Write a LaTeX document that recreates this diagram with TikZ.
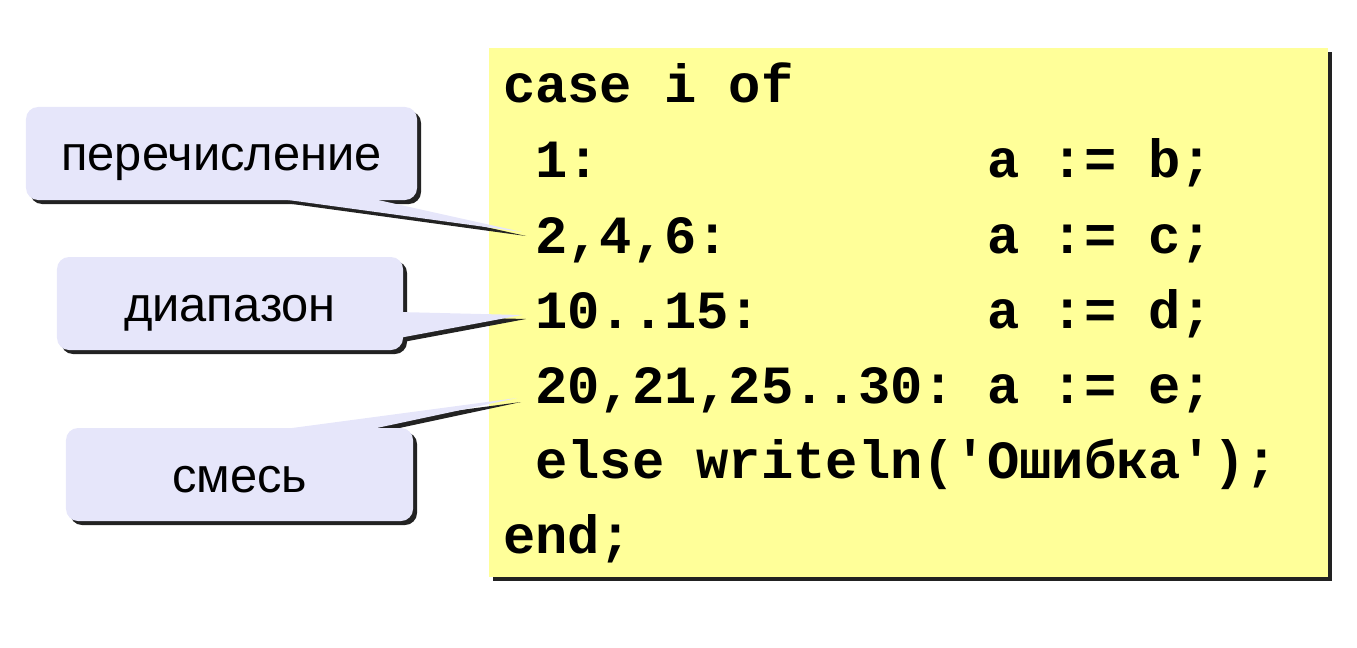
\documentclass[tikz,border=0pt]{standalone}
\usepackage{fontspec}
\setmainfont{Liberation Sans}
\setmonofont{Liberation Mono}
\usetikzlibrary{positioning,calc,backgrounds}
\definecolor{codefill}{HTML}{FFFF99}
\definecolor{notefill}{HTML}{E6E6FA}
\definecolor{shadefill}{HTML}{222222}
\tikzset{every node/.style={inner sep=0pt, outer sep=0pt},
  codeline/.style={anchor=base west, font=\fontsize{54}{60}\selectfont\ttfamily\bfseries},
  note/.style={font=\fontsize{49}{56}\selectfont, minimum height=93bp, text height=45bp, text depth=10bp},
  shade/.style={fill=shadefill, transform canvas={shift={(4bp,-4bp)}}}}

\begin{document}
\begin{tikzpicture}[x=1bp,y=-1bp]
  \useasboundingbox (0,0) rectangle (1357,648);
  % code
  \node[codeline] (l1) at (503,103) {case i of};
  \node[codeline] (l2) at (503,178) {~1:~~~~~~~~~~~~a~:=~b;};
  \node[codeline] (l3) at (503,253) {~2,4,6:~~~~~~~~a~:=~c;};
  \node[codeline] (l4) at (503,328) {~10..15:~~~~~~~a~:=~d;};
  \node[codeline] (l5) at (503,403) {~20,21,25..30:~a~:=~e;};
  \node[codeline] (l6) at (503,478) {~else writeln('Ошибка');};
  \node[codeline] (l7) at (503,553) {end;};
  % notes
  \node[note, minimum width=391bp] (n1) at (221.5,153.5) {перечисление};
  \node[note, minimum width=346bp] (n2) at (230,303.5) {диапазон};
  \node[note, minimum width=347bp] (n3) at (239.5,474.5) {смесь};
  \coordinate (a1) at ($(n1.south west)+(233,-4)$);
  \coordinate (b1) at ($(n1.south west)+(334,-4)$);
  \coordinate (t1) at ($(l3.base west)+(19,-21)$);
  \coordinate (a2) at ($(n2.south east)+(-4,-38)$);
  \coordinate (b2) at ($(n2.south east)+(-4,-12)$);
  \coordinate (t2) at ($(l4.base west)+(19,-13)$);
  \coordinate (a3) at ($(n3.north west)+(196,4)$);
  \coordinate (b3) at ($(n3.north west)+(292,4)$);
  \coordinate (t3) at ($(l5.base west)+(14,-5)$);
  \begin{scope}[on background layer]
    \fill[shade] (489,48) rectangle (1328,577);
    \fill[codefill] (489,48) rectangle (1328,577);
    \foreach \k in {1,2,3} {
      \fill[shade, rounded corners=12bp] (n\k.north west) rectangle (n\k.south east);
      \fill[shade] (a\k) -- (t\k) -- (b\k) -- cycle;
      \fill[notefill, rounded corners=12bp] (n\k.north west) rectangle (n\k.south east);
      \fill[notefill] (a\k) -- (t\k) -- (b\k) -- cycle;
    }
  \end{scope}
\end{tikzpicture}
\end{document}
